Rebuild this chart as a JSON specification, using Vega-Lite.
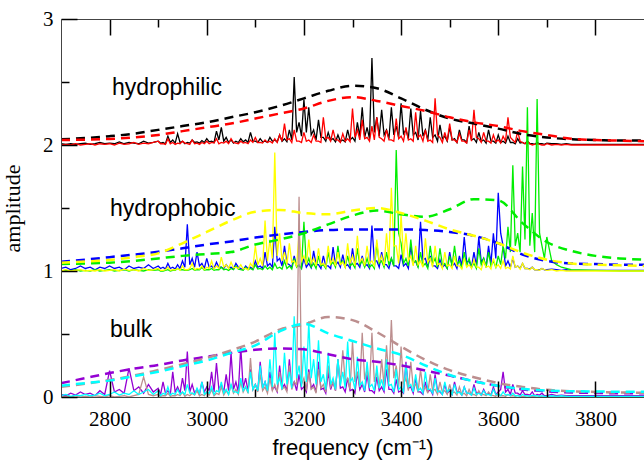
{
  "$schema": "https://vega.github.io/schema/vega-lite/v6.json",
  "width": 583,
  "height": 378,
  "autosize": {"type": "none"},
  "padding": {"left": 61, "top": 19, "right": 0, "bottom": 63},
  "background": "white",
  "config": {"view": {"stroke": null}},
  "datasets": {
    "spec": [
      {"f":2700,"k":2.01,"r":2.0,"y":1.0,"b":1.02,"g":1.0,"p":0.02,"c":0.01,"n":0.0},
      {"f":2710,"k":2.005,"r":2.005,"y":1.01,"b":1.03,"g":1.005,"p":0.01,"c":0.02,"n":0.005},
      {"f":2720,"k":2.01,"r":2.0,"y":1.0,"b":1.01,"g":1.0,"p":0.03,"c":0.005,"n":0.0},
      {"f":2730,"k":2.005,"r":2.01,"y":1.005,"b":1.02,"g":1.01,"p":0.015,"c":0.015,"n":0.01},
      {"f":2740,"k":2.01,"r":2.0,"y":1.01,"b":1.04,"g":1.0,"p":0.04,"c":0.01,"n":0.0},
      {"f":2750,"k":2.015,"r":2.005,"y":1.0,"b":1.02,"g":1.005,"p":0.02,"c":0.02,"n":0.005},
      {"f":2760,"k":2.005,"r":2.01,"y":1.005,"b":1.03,"g":1.0,"p":0.03,"c":0.01,"n":0.0},
      {"f":2770,"k":2.01,"r":2.0,"y":1.0,"b":1.01,"g":1.01,"p":0.01,"c":0.015,"n":0.01},
      {"f":2780,"k":2.02,"r":2.01,"y":1.01,"b":1.03,"g":1.0,"p":0.05,"c":0.03,"n":0.005},
      {"f":2790,"k":2.01,"r":2.005,"y":1.0,"b":1.02,"g":1.005,"p":0.02,"c":0.01,"n":0.0},
      {"f":2800,"k":2.015,"r":2.01,"y":1.005,"b":1.04,"g":1.01,"p":0.21,"c":0.02,"n":0.01},
      {"f":2810,"k":2.01,"r":2.0,"y":1.01,"b":1.02,"g":1.0,"p":0.04,"c":0.04,"n":0.0},
      {"f":2820,"k":2.025,"r":2.015,"y":1.0,"b":1.03,"g":1.005,"p":0.06,"c":0.015,"n":0.005},
      {"f":2830,"k":2.01,"r":2.005,"y":1.015,"b":1.01,"g":1.01,"p":0.03,"c":0.03,"n":0.01},
      {"f":2840,"k":2.02,"r":2.01,"y":1.005,"b":1.04,"g":1.0,"p":0.23,"c":0.02,"n":0.0},
      {"f":2850,"k":2.015,"r":2.02,"y":1.01,"b":1.02,"g":1.01,"p":0.05,"c":0.05,"n":0.01},
      {"f":2860,"k":2.01,"r":2.005,"y":1.0,"b":1.03,"g":1.005,"p":0.08,"c":0.02,"n":0.02},
      {"f":2870,"k":2.03,"r":2.015,"y":1.02,"b":1.02,"g":1.0,"p":0.03,"c":0.04,"n":0.16},
      {"f":2880,"k":2.015,"r":2.01,"y":1.005,"b":1.05,"g":1.01,"p":0.1,"c":0.06,"n":0.02},
      {"f":2890,"k":2.02,"r":2.02,"y":1.01,"b":1.02,"g":1.005,"p":0.04,"c":0.02,"n":0.01},
      {"f":2900,"k":2.03,"r":2.03,"y":1.02,"b":1.04,"g":1.01,"p":0.07,"c":0.05,"n":0.02},
      {"f":2910,"k":2.02,"r":2.01,"y":1.005,"b":1.03,"g":1.0,"p":0.12,"c":0.03,"n":0.01},
      {"f":2920,"k":2.07,"r":2.05,"y":1.03,"b":1.06,"g":1.01,"p":0.05,"c":0.08,"n":0.03},
      {"f":2930,"k":2.04,"r":2.02,"y":1.01,"b":1.03,"g":1.005,"p":0.2,"c":0.03,"n":0.01},
      {"f":2940,"k":2.09,"r":2.015,"y":1.02,"b":1.05,"g":1.02,"p":0.08,"c":0.06,"n":0.02},
      {"f":2950,"k":2.03,"r":2.03,"y":1.04,"b":1.08,"g":1.01,"p":0.15,"c":0.04,"n":0.04},
      {"f":2960,"k":2.02,"r":2.01,"y":1.01,"b":1.37,"g":1.005,"p":0.36,"c":0.1,"n":0.02},
      {"f":2970,"k":2.04,"r":2.04,"y":1.06,"b":1.1,"g":1.02,"p":0.1,"c":0.03,"n":0.03},
      {"f":2980,"k":2.025,"r":2.015,"y":1.02,"b":1.15,"g":1.01,"p":0.06,"c":0.07,"n":0.05},
      {"f":2990,"k":2.035,"r":2.02,"y":1.04,"b":1.06,"g":1.03,"p":0.12,"c":0.12,"n":0.02},
      {"f":3000,"k":2.05,"r":2.03,"y":1.03,"b":1.1,"g":1.01,"p":0.08,"c":0.04,"n":0.04},
      {"f":3010,"k":2.03,"r":2.02,"y":1.08,"b":1.04,"g":1.02,"p":0.2,"c":0.08,"n":0.06},
      {"f":3020,"k":2.11,"r":2.05,"y":1.04,"b":1.07,"g":1.01,"p":0.27,"c":0.05,"n":0.03},
      {"f":3030,"k":2.14,"r":2.02,"y":1.11,"b":1.03,"g":1.03,"p":0.1,"c":0.12,"n":0.08},
      {"f":3040,"k":2.06,"r":2.03,"y":1.05,"b":1.05,"g":1.015,"p":0.18,"c":0.06,"n":0.05},
      {"f":3050,"k":2.04,"r":2.05,"y":1.07,"b":1.03,"g":1.02,"p":0.35,"c":0.1,"n":0.1},
      {"f":3060,"k":2.03,"r":2.015,"y":1.03,"b":1.06,"g":1.04,"p":0.12,"c":0.04,"n":0.06},
      {"f":3070,"k":2.05,"r":2.03,"y":1.05,"b":1.02,"g":1.01,"p":0.4,"c":0.15,"n":0.12},
      {"f":3080,"k":2.04,"r":2.02,"y":1.02,"b":1.04,"g":1.03,"p":0.15,"c":0.08,"n":0.08},
      {"f":3090,"k":2.1,"r":2.04,"y":1.06,"b":1.03,"g":1.02,"p":0.22,"c":0.2,"n":0.31},
      {"f":3100,"k":2.03,"r":2.06,"y":1.2,"b":1.08,"g":1.05,"p":0.1,"c":0.1,"n":0.1},
      {"f":3110,"k":2.05,"r":2.02,"y":1.1,"b":1.04,"g":1.02,"p":0.28,"c":0.25,"n":0.18},
      {"f":3120,"k":2.03,"r":2.04,"y":1.4,"b":1.15,"g":1.04,"p":0.12,"c":0.12,"n":0.08},
      {"f":3130,"k":2.06,"r":2.03,"y":1.25,"b":1.06,"g":1.03,"p":0.2,"c":0.3,"n":0.15},
      {"f":3140,"k":2.04,"r":2.05,"y":1.94,"b":1.35,"g":1.06,"p":0.08,"c":0.51,"n":0.1},
      {"f":3150,"k":2.08,"r":2.08,"y":1.3,"b":1.1,"g":1.03,"p":0.25,"c":0.15,"n":0.2},
      {"f":3160,"k":2.05,"r":2.17,"y":1.15,"b":1.2,"g":1.08,"p":0.1,"c":0.35,"n":0.08},
      {"f":3170,"k":2.12,"r":2.05,"y":1.22,"b":1.05,"g":1.04,"p":0.3,"c":0.2,"n":0.25},
      {"f":3180,"k":2.54,"r":2.12,"y":1.08,"b":1.12,"g":1.1,"p":0.12,"c":0.64,"n":0.12},
      {"f":3190,"k":2.18,"r":2.03,"y":1.3,"b":1.04,"g":1.05,"p":0.18,"c":0.25,"n":1.59},
      {"f":3200,"k":2.36,"r":2.1,"y":1.12,"b":1.1,"g":1.39,"p":0.08,"c":0.4,"n":0.15},
      {"f":3210,"k":2.3,"r":2.04,"y":1.25,"b":1.06,"g":1.1,"p":0.22,"c":0.6,"n":0.2},
      {"f":3220,"k":2.12,"r":2.08,"y":1.1,"b":1.16,"g":1.06,"p":0.1,"c":0.3,"n":0.08},
      {"f":3230,"k":2.2,"r":2.03,"y":1.18,"b":1.05,"g":1.12,"p":0.28,"c":0.45,"n":0.22},
      {"f":3240,"k":2.06,"r":2.22,"y":1.06,"b":1.12,"g":1.05,"p":0.07,"c":0.18,"n":0.1},
      {"f":3250,"k":2.1,"r":2.06,"y":1.2,"b":1.04,"g":1.15,"p":0.2,"c":0.35,"n":0.25},
      {"f":3260,"k":2.05,"r":2.12,"y":1.1,"b":1.19,"g":1.07,"p":0.12,"c":0.15,"n":0.12},
      {"f":3270,"k":2.08,"r":2.04,"y":1.15,"b":1.07,"g":1.2,"p":0.3,"c":0.3,"n":0.3},
      {"f":3280,"k":2.04,"r":2.09,"y":1.07,"b":1.13,"g":1.08,"p":0.08,"c":0.2,"n":0.37},
      {"f":3290,"k":2.12,"r":2.05,"y":1.22,"b":1.05,"g":1.12,"p":0.15,"c":0.44,"n":0.15},
      {"f":3300,"k":2.06,"r":2.29,"y":1.12,"b":1.18,"g":1.06,"p":0.06,"c":0.15,"n":0.44},
      {"f":3310,"k":2.18,"r":2.12,"y":1.28,"b":1.06,"g":1.18,"p":0.2,"c":0.32,"n":0.2},
      {"f":3320,"k":2.3,"r":2.2,"y":1.1,"b":1.12,"g":1.08,"p":0.1,"c":0.12,"n":0.51},
      {"f":3330,"k":2.14,"r":2.06,"y":1.2,"b":1.05,"g":1.1,"p":0.18,"c":0.28,"n":0.22},
      {"f":3340,"k":2.69,"r":2.15,"y":1.08,"b":1.36,"g":1.05,"p":0.05,"c":0.1,"n":0.51},
      {"f":3350,"k":2.22,"r":2.22,"y":1.25,"b":1.08,"g":1.22,"p":0.16,"c":0.25,"n":0.2},
      {"f":3360,"k":2.28,"r":2.05,"y":1.12,"b":1.15,"g":1.08,"p":0.08,"c":0.14,"n":0.3},
      {"f":3370,"k":2.12,"r":2.12,"y":1.3,"b":1.05,"g":1.15,"p":0.22,"c":0.3,"n":0.41},
      {"f":3380,"k":2.3,"r":2.04,"y":1.66,"b":1.1,"g":1.1,"p":0.06,"c":0.1,"n":0.61},
      {"f":3390,"k":2.15,"r":2.21,"y":1.2,"b":1.04,"g":1.96,"p":0.14,"c":0.22,"n":0.25},
      {"f":3400,"k":2.33,"r":2.07,"y":1.45,"b":1.13,"g":1.22,"p":0.05,"c":0.08,"n":0.4},
      {"f":3410,"k":2.12,"r":2.14,"y":1.3,"b":1.06,"g":1.1,"p":0.28,"c":0.26,"n":0.15},
      {"f":3420,"k":2.29,"r":2.05,"y":1.12,"b":1.2,"g":1.25,"p":0.08,"c":0.1,"n":0.28},
      {"f":3430,"k":2.1,"r":2.26,"y":1.2,"b":1.08,"g":1.08,"p":0.15,"c":0.18,"n":0.1},
      {"f":3440,"k":2.27,"r":2.08,"y":1.08,"b":1.39,"g":1.15,"p":0.04,"c":0.07,"n":0.22},
      {"f":3450,"k":2.12,"r":2.12,"y":1.26,"b":1.1,"g":1.06,"p":0.12,"c":0.2,"n":0.08},
      {"f":3460,"k":2.22,"r":2.04,"y":1.1,"b":1.12,"g":1.2,"p":0.06,"c":0.06,"n":0.18},
      {"f":3470,"k":2.08,"r":2.37,"y":1.2,"b":1.04,"g":1.1,"p":0.18,"c":0.15,"n":0.06},
      {"f":3480,"k":2.16,"r":2.06,"y":1.06,"b":1.09,"g":1.18,"p":0.04,"c":0.05,"n":0.12},
      {"f":3490,"k":2.07,"r":2.1,"y":1.15,"b":1.05,"g":1.06,"p":0.1,"c":0.12,"n":0.05},
      {"f":3500,"k":2.14,"r":2.17,"y":1.05,"b":1.15,"g":1.12,"p":0.05,"c":0.06,"n":0.1},
      {"f":3510,"k":2.05,"r":2.04,"y":1.12,"b":1.06,"g":1.2,"p":0.12,"c":0.1,"n":0.04},
      {"f":3520,"k":2.12,"r":2.09,"y":1.04,"b":1.12,"g":1.08,"p":0.04,"c":0.04,"n":0.08},
      {"f":3530,"k":2.04,"r":2.03,"y":1.1,"b":1.27,"g":1.15,"p":0.08,"c":0.08,"n":0.03},
      {"f":3540,"k":2.15,"r":2.12,"y":1.05,"b":1.08,"g":1.1,"p":0.03,"c":0.03,"n":0.06},
      {"f":3550,"k":2.05,"r":2.28,"y":1.09,"b":1.15,"g":1.06,"p":0.1,"c":0.07,"n":0.02},
      {"f":3560,"k":2.1,"r":2.05,"y":1.03,"b":1.27,"g":1.18,"p":0.04,"c":0.03,"n":0.05},
      {"f":3570,"k":2.04,"r":2.1,"y":1.08,"b":1.1,"g":1.1,"p":0.06,"c":0.05,"n":0.02},
      {"f":3580,"k":2.12,"r":2.03,"y":1.04,"b":1.2,"g":1.15,"p":0.03,"c":0.02,"n":0.04},
      {"f":3590,"k":2.03,"r":2.08,"y":1.1,"b":1.3,"g":1.08,"p":0.08,"c":0.06,"n":0.01},
      {"f":3600,"k":2.08,"r":2.04,"y":1.05,"b":1.62,"g":1.12,"p":0.04,"c":0.02,"n":0.03},
      {"f":3610,"k":2.03,"r":2.07,"y":1.08,"b":1.2,"g":1.2,"p":0.2,"c":0.04,"n":0.01},
      {"f":3620,"k":2.07,"r":2.22,"y":1.03,"b":1.08,"g":1.35,"p":0.06,"c":0.02,"n":0.02},
      {"f":3630,"k":2.02,"r":2.04,"y":1.12,"b":1.1,"g":1.84,"p":0.1,"c":0.03,"n":0.01},
      {"f":3640,"k":2.05,"r":2.11,"y":1.04,"b":1.04,"g":1.3,"p":0.03,"c":0.01,"n":0.015},
      {"f":3650,"k":2.02,"r":2.02,"y":1.06,"b":1.06,"g":1.83,"p":0.05,"c":0.02,"n":0.005},
      {"f":3660,"k":2.03,"r":2.03,"y":1.02,"b":1.02,"g":2.3,"p":0.02,"c":0.01,"n":0.01},
      {"f":3670,"k":2.01,"r":2.0,"y":1.03,"b":1.03,"g":1.46,"p":0.04,"c":0.015,"n":0.005},
      {"f":3680,"k":2.02,"r":2.01,"y":1.01,"b":1.01,"g":2.365,"p":0.02,"c":0.01,"n":0.01},
      {"f":3690,"k":2.01,"r":2.0,"y":1.02,"b":1.02,"g":1.2,"p":0.03,"c":0.01,"n":0.0},
      {"f":3700,"k":2.015,"r":2.01,"y":1.005,"b":1.01,"g":1.27,"p":0.01,"c":0.005,"n":0.005},
      {"f":3710,"k":2.01,"r":2.0,"y":1.01,"b":1.015,"g":1.08,"p":0.02,"c":0.01,"n":0.0},
      {"f":3720,"k":2.01,"r":2.005,"y":1.0,"b":1.01,"g":1.05,"p":0.01,"c":0.005,"n":0.005},
      {"f":3730,"k":2.005,"r":2.0,"y":1.005,"b":1.005,"g":1.03,"p":0.015,"c":0.01,"n":0.0},
      {"f":3740,"k":2.01,"r":2.005,"y":1.0,"b":1.01,"g":1.02,"p":0.01,"c":0.005,"n":0.005},
      {"f":3750,"k":2.005,"r":2.0,"y":1.0,"b":1.005,"g":1.01,"p":0.01,"c":0.005,"n":0.0},
      {"f":3800,"k":2.005,"r":2.0,"y":1.0,"b":1.005,"g":1.005,"p":0.01,"c":0.005,"n":0.0},
      {"f":3850,"k":2.005,"r":2.0,"y":1.0,"b":1.005,"g":1.0,"p":0.01,"c":0.005,"n":0.0},
      {"f":3900,"k":2.005,"r":2.0,"y":1.0,"b":1.005,"g":1.0,"p":0.01,"c":0.005,"n":0.0},
      {"f":2905,"k":2.015,"r":2.01,"y":1.005,"b":1.02,"g":1.0,"p":0.02,"c":0.01,"n":0.005},
      {"f":2915,"k":2.01,"r":2.005,"y":1.01,"b":1.015,"g":1.005,"p":0.03,"c":0.02,"n":0.01},
      {"f":2925,"k":2.02,"r":2.01,"y":1.005,"b":1.02,"g":1.0,"p":0.02,"c":0.015,"n":0.005},
      {"f":2935,"k":2.015,"r":2.005,"y":1.01,"b":1.015,"g":1.005,"p":0.04,"c":0.02,"n":0.01},
      {"f":2945,"k":2.02,"r":2.01,"y":1.005,"b":1.02,"g":1.01,"p":0.03,"c":0.02,"n":0.01},
      {"f":2955,"k":2.01,"r":2.015,"y":1.01,"b":1.03,"g":1.005,"p":0.05,"c":0.02,"n":0.005},
      {"f":2965,"k":2.015,"r":2.005,"y":1.02,"b":1.05,"g":1.01,"p":0.04,"c":0.03,"n":0.01},
      {"f":2975,"k":2.02,"r":2.01,"y":1.01,"b":1.03,"g":1.005,"p":0.03,"c":0.02,"n":0.015},
      {"f":2985,"k":2.015,"r":2.005,"y":1.015,"b":1.04,"g":1.01,"p":0.02,"c":0.03,"n":0.01},
      {"f":2995,"k":2.02,"r":2.01,"y":1.01,"b":1.02,"g":1.005,"p":0.04,"c":0.02,"n":0.01},
      {"f":3005,"k":2.025,"r":2.01,"y":1.02,"b":1.03,"g":1.01,"p":0.05,"c":0.03,"n":0.015},
      {"f":3015,"k":2.02,"r":2.015,"y":1.015,"b":1.02,"g":1.005,"p":0.04,"c":0.02,"n":0.01},
      {"f":3025,"k":2.04,"r":2.01,"y":1.02,"b":1.03,"g":1.01,"p":0.06,"c":0.04,"n":0.02},
      {"f":3035,"k":2.03,"r":2.015,"y":1.03,"b":1.02,"g":1.01,"p":0.04,"c":0.03,"n":0.015},
      {"f":3045,"k":2.02,"r":2.01,"y":1.02,"b":1.025,"g":1.005,"p":0.05,"c":0.02,"n":0.02},
      {"f":3055,"k":2.015,"r":2.02,"y":1.025,"b":1.015,"g":1.01,"p":0.06,"c":0.04,"n":0.03},
      {"f":3065,"k":2.02,"r":2.01,"y":1.02,"b":1.03,"g":1.015,"p":0.04,"c":0.03,"n":0.02},
      {"f":3075,"k":2.025,"r":2.015,"y":1.015,"b":1.01,"g":1.005,"p":0.07,"c":0.05,"n":0.04},
      {"f":3085,"k":2.02,"r":2.01,"y":1.01,"b":1.02,"g":1.01,"p":0.05,"c":0.04,"n":0.03},
      {"f":3095,"k":2.03,"r":2.02,"y":1.03,"b":1.015,"g":1.01,"p":0.06,"c":0.06,"n":0.06},
      {"f":3105,"k":2.02,"r":2.02,"y":1.05,"b":1.03,"g":1.015,"p":0.05,"c":0.05,"n":0.04},
      {"f":3115,"k":2.025,"r":2.015,"y":1.04,"b":1.02,"g":1.01,"p":0.07,"c":0.07,"n":0.05},
      {"f":3125,"k":2.02,"r":2.02,"y":1.08,"b":1.04,"g":1.015,"p":0.05,"c":0.05,"n":0.03},
      {"f":3135,"k":2.03,"r":2.015,"y":1.1,"b":1.03,"g":1.01,"p":0.06,"c":0.08,"n":0.05},
      {"f":3145,"k":2.025,"r":2.02,"y":1.12,"b":1.08,"g":1.02,"p":0.04,"c":0.1,"n":0.04},
      {"f":3155,"k":2.03,"r":2.03,"y":1.08,"b":1.04,"g":1.015,"p":0.07,"c":0.06,"n":0.06},
      {"f":3165,"k":2.025,"r":2.04,"y":1.05,"b":1.06,"g":1.02,"p":0.05,"c":0.1,"n":0.04},
      {"f":3175,"k":2.04,"r":2.02,"y":1.07,"b":1.03,"g":1.015,"p":0.08,"c":0.07,"n":0.06},
      {"f":3185,"k":2.1,"r":2.03,"y":1.04,"b":1.04,"g":1.03,"p":0.05,"c":0.15,"n":0.1},
      {"f":3195,"k":2.07,"r":2.02,"y":1.08,"b":1.02,"g":1.02,"p":0.06,"c":0.08,"n":0.1},
      {"f":3205,"k":2.1,"r":2.03,"y":1.05,"b":1.03,"g":1.05,"p":0.04,"c":0.12,"n":0.05},
      {"f":3215,"k":2.08,"r":2.02,"y":1.06,"b":1.025,"g":1.03,"p":0.07,"c":0.15,"n":0.06},
      {"f":3225,"k":2.04,"r":2.03,"y":1.04,"b":1.05,"g":1.02,"p":0.04,"c":0.1,"n":0.03},
      {"f":3235,"k":2.06,"r":2.02,"y":1.05,"b":1.02,"g":1.04,"p":0.06,"c":0.12,"n":0.07},
      {"f":3245,"k":2.03,"r":2.05,"y":1.03,"b":1.04,"g":1.02,"p":0.03,"c":0.06,"n":0.04},
      {"f":3255,"k":2.04,"r":2.03,"y":1.06,"b":1.02,"g":1.05,"p":0.06,"c":0.1,"n":0.08},
      {"f":3265,"k":2.025,"r":2.04,"y":1.04,"b":1.05,"g":1.03,"p":0.05,"c":0.06,"n":0.05},
      {"f":3275,"k":2.03,"r":2.02,"y":1.05,"b":1.03,"g":1.06,"p":0.07,"c":0.09,"n":0.1},
      {"f":3285,"k":2.025,"r":2.03,"y":1.03,"b":1.04,"g":1.03,"p":0.04,"c":0.07,"n":0.12},
      {"f":3295,"k":2.04,"r":2.025,"y":1.06,"b":1.02,"g":1.04,"p":0.05,"c":0.12,"n":0.06},
      {"f":3305,"k":2.03,"r":2.06,"y":1.04,"b":1.05,"g":1.025,"p":0.03,"c":0.06,"n":0.12},
      {"f":3315,"k":2.07,"r":2.04,"y":1.07,"b":1.03,"g":1.05,"p":0.06,"c":0.09,"n":0.08},
      {"f":3325,"k":2.06,"r":2.05,"y":1.04,"b":1.04,"g":1.03,"p":0.04,"c":0.05,"n":0.14},
      {"f":3335,"k":2.05,"r":2.03,"y":1.06,"b":1.02,"g":1.03,"p":0.05,"c":0.08,"n":0.08},
      {"f":3345,"k":2.1,"r":2.04,"y":1.04,"b":1.08,"g":1.02,"p":0.03,"c":0.05,"n":0.12},
      {"f":3355,"k":2.07,"r":2.06,"y":1.07,"b":1.03,"g":1.06,"p":0.05,"c":0.07,"n":0.07},
      {"f":3365,"k":2.08,"r":2.03,"y":1.04,"b":1.05,"g":1.03,"p":0.04,"c":0.05,"n":0.09},
      {"f":3375,"k":2.05,"r":2.04,"y":1.08,"b":1.02,"g":1.05,"p":0.06,"c":0.09,"n":0.12},
      {"f":3385,"k":2.08,"r":2.03,"y":1.2,"b":1.04,"g":1.04,"p":0.03,"c":0.04,"n":0.15},
      {"f":3395,"k":2.06,"r":2.05,"y":1.06,"b":1.02,"g":1.3,"p":0.04,"c":0.06,"n":0.08},
      {"f":3405,"k":2.09,"r":2.03,"y":1.1,"b":1.04,"g":1.06,"p":0.03,"c":0.04,"n":0.1},
      {"f":3415,"k":2.05,"r":2.04,"y":1.08,"b":1.02,"g":1.04,"p":0.07,"c":0.08,"n":0.05},
      {"f":3425,"k":2.08,"r":2.03,"y":1.04,"b":1.06,"g":1.07,"p":0.03,"c":0.04,"n":0.08},
      {"f":3435,"k":2.04,"r":2.06,"y":1.05,"b":1.03,"g":1.03,"p":0.04,"c":0.05,"n":0.04},
      {"f":3445,"k":2.07,"r":2.03,"y":1.03,"b":1.09,"g":1.04,"p":0.02,"c":0.03,"n":0.06},
      {"f":3455,"k":2.04,"r":2.03,"y":1.07,"b":1.03,"g":1.02,"p":0.04,"c":0.06,"n":0.03},
      {"f":3465,"k":2.06,"r":2.02,"y":1.03,"b":1.04,"g":1.06,"p":0.02,"c":0.03,"n":0.05},
      {"f":3475,"k":2.03,"r":2.08,"y":1.05,"b":1.02,"g":1.03,"p":0.05,"c":0.04,"n":0.02},
      {"f":3485,"k":2.05,"r":2.02,"y":1.02,"b":1.03,"g":1.05,"p":0.02,"c":0.02,"n":0.04},
      {"f":3495,"k":2.03,"r":2.03,"y":1.04,"b":1.02,"g":1.02,"p":0.03,"c":0.04,"n":0.02},
      {"f":3505,"k":2.04,"r":2.04,"y":1.02,"b":1.04,"g":1.04,"p":0.02,"c":0.02,"n":0.03},
      {"f":3515,"k":2.02,"r":2.02,"y":1.04,"b":1.02,"g":1.05,"p":0.04,"c":0.03,"n":0.015},
      {"f":3525,"k":2.04,"r":2.03,"y":1.015,"b":1.04,"g":1.02,"p":0.015,"c":0.015,"n":0.02},
      {"f":3535,"k":2.02,"r":2.015,"y":1.03,"b":1.07,"g":1.04,"p":0.03,"c":0.03,"n":0.01},
      {"f":3545,"k":2.04,"r":2.03,"y":1.02,"b":1.03,"g":1.03,"p":0.015,"c":0.015,"n":0.02},
      {"f":3555,"k":2.02,"r":2.06,"y":1.03,"b":1.04,"g":1.02,"p":0.03,"c":0.02,"n":0.01},
      {"f":3565,"k":2.03,"r":2.02,"y":1.01,"b":1.07,"g":1.05,"p":0.015,"c":0.015,"n":0.015},
      {"f":3575,"k":2.015,"r":2.03,"y":1.03,"b":1.03,"g":1.03,"p":0.02,"c":0.02,"n":0.01},
      {"f":3585,"k":2.03,"r":2.015,"y":1.015,"b":1.06,"g":1.04,"p":0.015,"c":0.01,"n":0.015},
      {"f":3595,"k":2.015,"r":2.025,"y":1.03,"b":1.1,"g":1.03,"p":0.02,"c":0.02,"n":0.005},
      {"f":3605,"k":2.02,"r":2.015,"y":1.02,"b":1.3,"g":1.05,"p":0.06,"c":0.01,"n":0.01},
      {"f":3615,"k":2.015,"r":2.03,"y":1.02,"b":1.04,"g":1.1,"p":0.04,"c":0.015,"n":0.005},
      {"f":3625,"k":2.02,"r":2.06,"y":1.015,"b":1.03,"g":1.15,"p":0.02,"c":0.01,"n":0.01},
      {"f":3635,"k":2.01,"r":2.02,"y":1.03,"b":1.03,"g":1.2,"p":0.03,"c":0.01,"n":0.005},
      {"f":3645,"k":2.015,"r":2.03,"y":1.015,"b":1.02,"g":1.15,"p":0.015,"c":0.005,"n":0.005},
      {"f":3655,"k":2.01,"r":2.01,"y":1.02,"b":1.02,"g":1.25,"p":0.02,"c":0.01,"n":0.005},
      {"f":3665,"k":2.01,"r":2.01,"y":1.01,"b":1.015,"g":1.2,"p":0.015,"c":0.005,"n":0.005},
      {"f":3675,"k":2.005,"r":2.005,"y":1.01,"b":1.01,"g":1.15,"p":0.01,"c":0.01,"n":0.005},
      {"f":3685,"k":2.01,"r":2.005,"y":1.005,"b":1.01,"g":1.3,"p":0.015,"c":0.005,"n":0.005},
      {"f":3695,"k":2.005,"r":2.0,"y":1.01,"b":1.01,"g":1.1,"p":0.01,"c":0.005,"n":0.0}
    ],
    "env": [
      {"f":2700,"k":2.045,"r":2.04,"y":1.066,"b":1.074,"g":1.055,"p":0.109,"c":0.09,"n":0.082},
      {"f":2750,"k":2.055,"r":2.042,"y":1.075,"b":1.09,"g":1.06,"p":0.15,"c":0.11,"n":0.105},
      {"f":2800,"k":2.07,"r":2.048,"y":1.087,"b":1.11,"g":1.066,"p":0.19,"c":0.13,"n":0.135},
      {"f":2850,"k":2.09,"r":2.06,"y":1.11,"b":1.13,"g":1.08,"p":0.225,"c":0.165,"n":0.17},
      {"f":2900,"k":2.12,"r":2.08,"y":1.14,"b":1.153,"g":1.1,"p":0.254,"c":0.2,"n":0.214},
      {"f":2950,"k":2.15,"r":2.11,"y":1.22,"b":1.18,"g":1.12,"p":0.29,"c":0.245,"n":0.26},
      {"f":3000,"k":2.18,"r":2.14,"y":1.31,"b":1.21,"g":1.135,"p":0.32,"c":0.29,"n":0.31},
      {"f":3050,"k":2.22,"r":2.17,"y":1.4,"b":1.235,"g":1.15,"p":0.35,"c":0.35,"n":0.37},
      {"f":3100,"k":2.26,"r":2.21,"y":1.47,"b":1.265,"g":1.21,"p":0.375,"c":0.41,"n":0.44},
      {"f":3150,"k":2.31,"r":2.25,"y":1.485,"b":1.29,"g":1.25,"p":0.385,"c":0.52,"n":0.535},
      {"f":3200,"k":2.37,"r":2.29,"y":1.46,"b":1.31,"g":1.3,"p":0.378,"c":0.58,"n":0.575},
      {"f":3250,"k":2.43,"r":2.35,"y":1.45,"b":1.325,"g":1.37,"p":0.34,"c":0.505,"n":0.635},
      {"f":3300,"k":2.47,"r":2.38,"y":1.48,"b":1.33,"g":1.44,"p":0.3,"c":0.445,"n":0.61},
      {"f":3350,"k":2.45,"r":2.35,"y":1.5,"b":1.33,"g":1.48,"p":0.28,"c":0.385,"n":0.515},
      {"f":3400,"k":2.37,"r":2.31,"y":1.46,"b":1.33,"g":1.45,"p":0.25,"c":0.335,"n":0.4},
      {"f":3450,"k":2.28,"r":2.27,"y":1.4,"b":1.325,"g":1.43,"p":0.21,"c":0.25,"n":0.295},
      {"f":3500,"k":2.21,"r":2.22,"y":1.33,"b":1.31,"g":1.49,"p":0.17,"c":0.175,"n":0.213},
      {"f":3550,"k":2.17,"r":2.18,"y":1.28,"b":1.28,"g":1.57,"p":0.125,"c":0.125,"n":0.157},
      {"f":3600,"k":2.13,"r":2.15,"y":1.22,"b":1.22,"g":1.56,"p":0.088,"c":0.088,"n":0.11},
      {"f":3650,"k":2.085,"r":2.11,"y":1.145,"b":1.13,"g":1.38,"p":0.06,"c":0.065,"n":0.08},
      {"f":3700,"k":2.06,"r":2.08,"y":1.09,"b":1.08,"g":1.23,"p":0.045,"c":0.05,"n":0.057},
      {"f":3750,"k":2.045,"r":2.05,"y":1.06,"b":1.06,"g":1.16,"p":0.036,"c":0.046,"n":0.045},
      {"f":3800,"k":2.04,"r":2.04,"y":1.05,"b":1.055,"g":1.12,"p":0.032,"c":0.044,"n":0.04},
      {"f":3850,"k":2.035,"r":2.035,"y":1.045,"b":1.05,"g":1.1,"p":0.03,"c":0.042,"n":0.036},
      {"f":3900,"k":2.035,"r":2.03,"y":1.04,"b":1.05,"g":1.09,"p":0.03,"c":0.042,"n":0.034}
    ],
    "labels": [
      {"f":2805,"a":2.397,"t":"hydrophilic"},
      {"f":2801,"a":1.437,"t":"hydrophobic"},
      {"f":2801,"a":0.474,"t":"bulk"}
    ]
  },
  "resolve": {"axis": {"x": "independent", "y": "independent"}},
  "layer": [
    {
      "data": {"name": "spec"},
      "transform": [{"fold": ["k","r","b","g","y"], "as": ["series","a"]}],
      "mark": {"type": "line", "strokeWidth": 1.3, "clip": true},
      "encoding": {
        "x": {
          "field": "f", "type": "quantitative",
          "scale": {"domain": [2700, 3900], "nice": false, "zero": false},
          "axis": {
            "orient": "bottom", "offset": -16, "tickSize": 16, "zindex": 1,
            "title": "frequency (cm⁻¹)",
            "values": [2800,3000,3200,3400,3600,3800],
            "format": "d",
            "labelOverlap": false, "labelFlush": false,
            "tickColor": "black", "tickWidth": 1.5,
            "domain": false, "grid": false,
            "labelFont": "Liberation Serif", "labelFontSize": 21, "labelColor": "black", "labelPadding": 11,
            "titleFont": "Liberation Sans", "titleFontSize": 22, "titleFontWeight": "normal", "titleColor": "black", "titlePadding": 8
          }
        },
        "y": {
          "field": "a", "type": "quantitative",
          "scale": {"domain": [0, 3], "nice": false, "zero": false},
          "axis": {
            "orient": "left", "offset": -16, "tickSize": 16, "zindex": 1,
            "title": "amplitude",
            "values": [0,1,2,3],
            "format": "d",
            "labelOverlap": false, "labelFlush": false,
            "tickColor": "black", "tickWidth": 1.5,
            "domain": false, "grid": false,
            "labelFont": "Liberation Serif", "labelFontSize": 21, "labelColor": "black", "labelPadding": 8,
            "titleFont": "Liberation Serif", "titleFontSize": 22, "titleFontWeight": "normal", "titleColor": "black", "titlePadding": 18
          }
        },
        "color": {
          "field": "series", "type": "nominal",
          "scale": {
            "domain": ["k","r","b","g","y","p","n","c"],
            "range": ["#000000","#ff0000","#0000ff","#00ee00","#ffff00","#9400d3","#bc8f8f","#00ffff"]
          },
          "legend": null
        }
      }
    },
    {
      "data": {"name": "spec"},
      "transform": [{"fold": ["p","n","c"], "as": ["series","a"]}],
      "mark": {"type": "line", "strokeWidth": 1.3, "clip": true},
      "encoding": {
        "x": {
          "field": "f", "type": "quantitative",
          "axis": {
            "orient": "top", "offset": -16, "tickSize": 16, "zindex": 1,
            "title": null, "values": [2800,3000,3200,3400,3600,3800],
            "labels": false, "domain": false, "grid": false,
            "tickColor": "black", "tickWidth": 1.5
          }
        },
        "y": {
          "field": "a", "type": "quantitative",
          "axis": {
            "orient": "left", "offset": -8, "tickSize": 8, "zindex": 1,
            "title": null, "values": [0.5,1.5,2.5],
            "labels": false, "domain": false, "grid": false,
            "tickColor": "black", "tickWidth": 1.5
          }
        },
        "color": {"field": "series", "type": "nominal", "legend": null}
      }
    },
    {
      "data": {"name": "env"},
      "transform": [{"fold": ["k","r"], "as": ["series","a"]}],
      "mark": {"type": "line", "strokeWidth": 2.5, "strokeDash": [9, 6], "interpolate": "monotone", "clip": true},
      "encoding": {
        "x": {
          "field": "f", "type": "quantitative",
          "axis": {
            "orient": "bottom", "offset": -8, "tickSize": 8, "zindex": 1,
            "title": null, "values": [2900,3100,3300,3500,3700],
            "labels": false, "domain": false, "grid": false,
            "tickColor": "black", "tickWidth": 1.5
          }
        },
        "y": {
          "field": "a", "type": "quantitative",
          "axis": {
            "orient": "left", "title": null, "ticks": false, "labels": false, "zindex": 1,
            "domain": true, "domainColor": "#444444", "domainWidth": 1, "grid": false
          }
        },
        "color": {"field": "series", "type": "nominal", "legend": null}
      }
    },
    {
      "data": {"name": "env"},
      "transform": [{"fold": ["b","g","y"], "as": ["series","a"]}],
      "mark": {"type": "line", "strokeWidth": 2.5, "strokeDash": [9, 6], "interpolate": "monotone", "clip": true},
      "encoding": {
        "x": {
          "field": "f", "type": "quantitative",
          "axis": {
            "orient": "top", "offset": -8, "tickSize": 8, "zindex": 1,
            "title": null, "values": [2900,3100,3300,3500,3700],
            "labels": false, "domain": false, "grid": false,
            "tickColor": "black", "tickWidth": 1.5
          }
        },
        "y": {"field": "a", "type": "quantitative", "axis": null},
        "color": {"field": "series", "type": "nominal", "legend": null}
      }
    },
    {
      "data": {"name": "env"},
      "transform": [{"fold": ["p","n","c"], "as": ["series","a"]}],
      "mark": {"type": "line", "strokeWidth": 2.5, "strokeDash": [9, 6], "interpolate": "monotone", "clip": true},
      "encoding": {
        "x": {
          "field": "f", "type": "quantitative",
          "axis": {
            "orient": "bottom", "title": null, "ticks": false, "labels": false, "zindex": 1,
            "domain": true, "domainColor": "#444444", "domainWidth": 1, "grid": false
          }
        },
        "y": {"field": "a", "type": "quantitative", "axis": null},
        "color": {"field": "series", "type": "nominal", "legend": null}
      }
    },
    {
      "data": {"name": "labels"},
      "mark": {"type": "text", "font": "Liberation Sans", "fontSize": 23, "align": "left", "baseline": "alphabetic", "color": "black"},
      "encoding": {
        "x": {
          "field": "f", "type": "quantitative",
          "axis": {
            "orient": "top", "title": null, "ticks": false, "labels": false, "zindex": 1,
            "domain": true, "domainColor": "#444444", "domainWidth": 1, "grid": false
          }
        },
        "y": {"field": "a", "type": "quantitative", "axis": null},
        "text": {"field": "t", "type": "nominal"}
      }
    }
  ]
}
